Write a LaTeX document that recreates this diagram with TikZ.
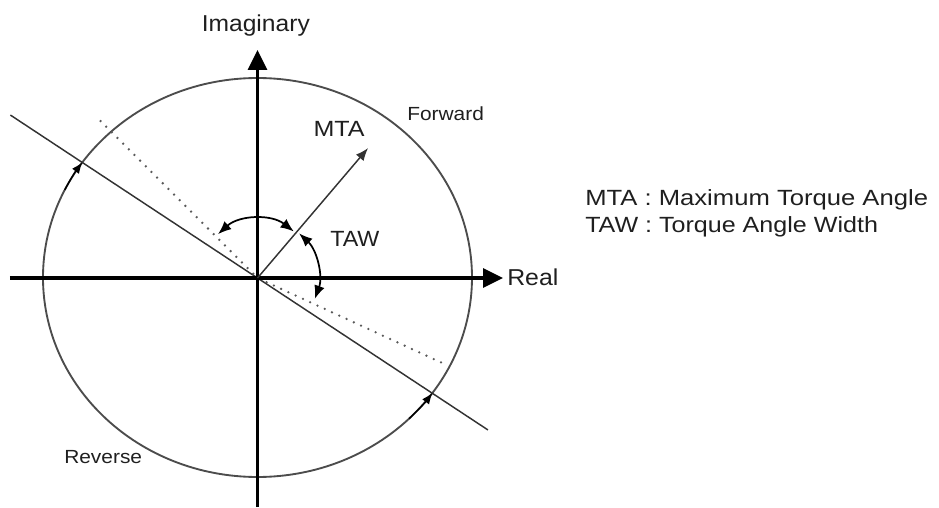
\documentclass[tikz,border=0pt]{standalone}
\usepackage{fontspec}
\setmainfont{Liberation Sans}
\usetikzlibrary{arrows.meta,calc}
\definecolor{txt}{gray}{0.12}
\definecolor{circ}{gray}{0.3}
\definecolor{ln}{gray}{0.2}
\definecolor{dots}{gray}{0.35}
\tikzset{
  axisline/.style={line width=2.8pt, black, -{Triangle[length=15pt,width=14pt]}},
  circline/.style={line width=1.4pt, circ},
  solidline/.style={line width=1.1pt, ln},
  dotline/.style={line width=1.9pt, dots, line cap=round, dash pattern=on 0pt off 6pt},
  mtaline/.style={line width=1.1pt, ln, -{Latex[length=9.5pt,width=7.5pt]}},
  anglearc/.style={line width=1.3pt, black, {Latex[length=10pt,width=8pt]}-{Latex[length=10pt,width=8pt]}},
  circarrow/.style={line width=1.1pt, black, -{Latex[length=8.5pt,width=6.5pt]}},
  bigtxt/.style={text=txt, inner sep=0pt, font=\fontsize{17.25}{20}\selectfont},
  midtxt/.style={text=txt, inner sep=0pt, font=\fontsize{16.5}{20}\selectfont},
  smalltxt/.style={text=txt, inner sep=0pt, font=\fontsize{14.25}{17}\selectfont},
}
\begin{document}
\begin{tikzpicture}[x=0.75pt, y=0.75pt]
\useasboundingbox (-257.5,-229) rectangle (681.5,278);
% key points
\coordinate (O) at (0,0);
\coordinate (C) at (0,0.5);
\coordinate (xL) at (-247.5,0);
\coordinate (xR) at (245.5,0);
\coordinate (yB) at (0,-229);
\coordinate (yT) at (0,228);
\coordinate (sA) at (146.6:296);
\coordinate (sB) at (-33.4:276);
\coordinate (dA) at (135:222);
\coordinate (dB0) at (-24.7:10);
\coordinate (dB) at (-24.7:203);
\coordinate (mta) at (49.6:170.6);
\coordinate (a1s) at (132:59);
\coordinate (a2s) at (47:61);
\coordinate (e1s) at ($(C)+(154:214.5 and 199.5)$);
\coordinate (e2s) at ($(C)+(-45:214.5 and 199.5)$);
% circle
\draw[circline] (C) ellipse [x radius=214.5, y radius=199.5];
% boundary lines
\draw[solidline] (sA) -- (sB);
\draw[dotline] (dA) -- (O);
\draw[dotline] (dB0) -- (dB);
% axes
\draw[axisline] (xL) -- (xR);
\draw[axisline] (yB) -- (yT);
% MTA
\draw[mtaline] (O) -- (mta);
% angle arcs
\draw[anglearc] (a1s) arc[start angle=132, end angle=52, radius=59];
\draw[anglearc] (a2s) arc[start angle=47, end angle=-20, radius=61];
% arrows on circle
\draw[circarrow] (e1s) arc[start angle=154, end angle=144.7, x radius=214.5, y radius=199.5];
\draw[circarrow] (e2s) arc[start angle=-45, end angle=-35.3, x radius=214.5, y radius=199.5];
% labels
\node[bigtxt, anchor=base] (imag) at (-1.7,246.3) {\scalebox{1.07}[1]{Imaginary}};
\node[bigtxt, anchor=base west] (real) at (249.5,-7) {\scalebox{1.08}[1]{Real}};
\node[midtxt, anchor=base west] (mtalbl) at (55.8,141.3) {\scalebox{1.14}[1]{MTA}};
\node[midtxt, anchor=base west] (tawlbl) at (72.5,32) {\scalebox{1.06}[1]{TAW}};
\node[smalltxt, anchor=base west] (fwd) at (149.5,157.3) {\scalebox{1.1}[1]{Forward}};
\node[smalltxt, anchor=base west] (rev) at (-193.5,-185.3) {\scalebox{1.1}[1]{Reverse}};
\node[midtxt, anchor=base west] (leg1) at (327.5,73) {\scalebox{1.165}[1]{MTA : Maximum Torque Angle}};
\node[midtxt, anchor=base west] (leg2) at (327.5,45.3) {\scalebox{1.14}[1]{TAW : Torque Angle Width}};
\end{tikzpicture}
\end{document}
